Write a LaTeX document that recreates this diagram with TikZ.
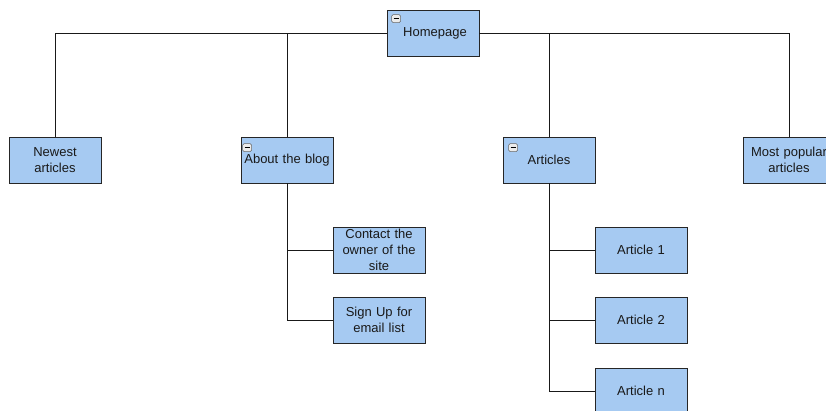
\documentclass[tikz,border=0pt]{standalone}
\usepackage{fontspec}
\setmainfont{Liberation Sans}
\usetikzlibrary{positioning}
\definecolor{boxblue}{RGB}{166,202,242}

\begin{document}
\begin{tikzpicture}[
    x=1pt,
    y=-1pt,
    page/.style={
      draw=black!85,
      fill=boxblue,
      line width=.8pt,
      minimum width=92pt,
      minimum height=46pt,
      inner sep=1pt,
      align=center,
      text width=90pt,
      font=\fontsize{13}{16}\selectfont,
      text=black!90,
    },
    link/.style={
      line width=.8pt,
      color=black!90,
    },
    toggle/.style={
      draw=black!60,
      fill=black!8,
      line width=.6pt,
      rounded corners=1.5pt,
    },
  ]
    \newcommand\toggleicon[2]{%
      \draw[toggle] ([shift={#2}]#1.north west) rectangle ++(9,8);
      \draw[line width=1.3pt] ([shift={#2}]#1.north west) ++(2,4) -- ++(5,0);
    }

    \clip (0,0) rectangle (826,410);
    \useasboundingbox (0,0) rectangle (826,410);

    % top level
    \node[page] (home)   at (433, 33) {\hspace*{4pt}Homepage};
    \node[page] (newest) at (55, 160)  {Newest\\articles};
    \node[page] (about)  at (287, 160) {About the blog};
    \node[page] (arts)   at (549, 160) {Articles};
    \node[page] (most)   at (789, 160) {Most popular\\articles};

    % about the blog
    \node[page] (contact) at (379, 250) {Contact the\\owner of the\\site};
    \node[page] (signup)  at (379, 320) {Sign Up for\\email list};

    % articles
    \node[page] (art1) at (641, 250) {Article 1};
    \node[page] (art2) at (641, 320) {Article 2};
    \node[page] (artn) at (641, 391) {Article n};

    \draw[link] (home.west) -| (newest.north);
    \draw[link] (home.east) -| (most.north);
    \draw[link] (about.north) |- (home.west);
    \draw[link] (arts.north) |- (home.east);

    \draw[link] (about.south) |- (contact.west);
    \draw[link] (about.south) |- (signup.west);

    \draw[link] (arts.south) |- (art1.west);
    \draw[link] (arts.south) |- (art2.west);
    \draw[link] (arts.south) |- (artn.west);

    \toggleicon{home}{(5,5)}
    \toggleicon{about}{(2,7)}
    \toggleicon{arts}{(6,7)}
  \end{tikzpicture}
\end{document}
